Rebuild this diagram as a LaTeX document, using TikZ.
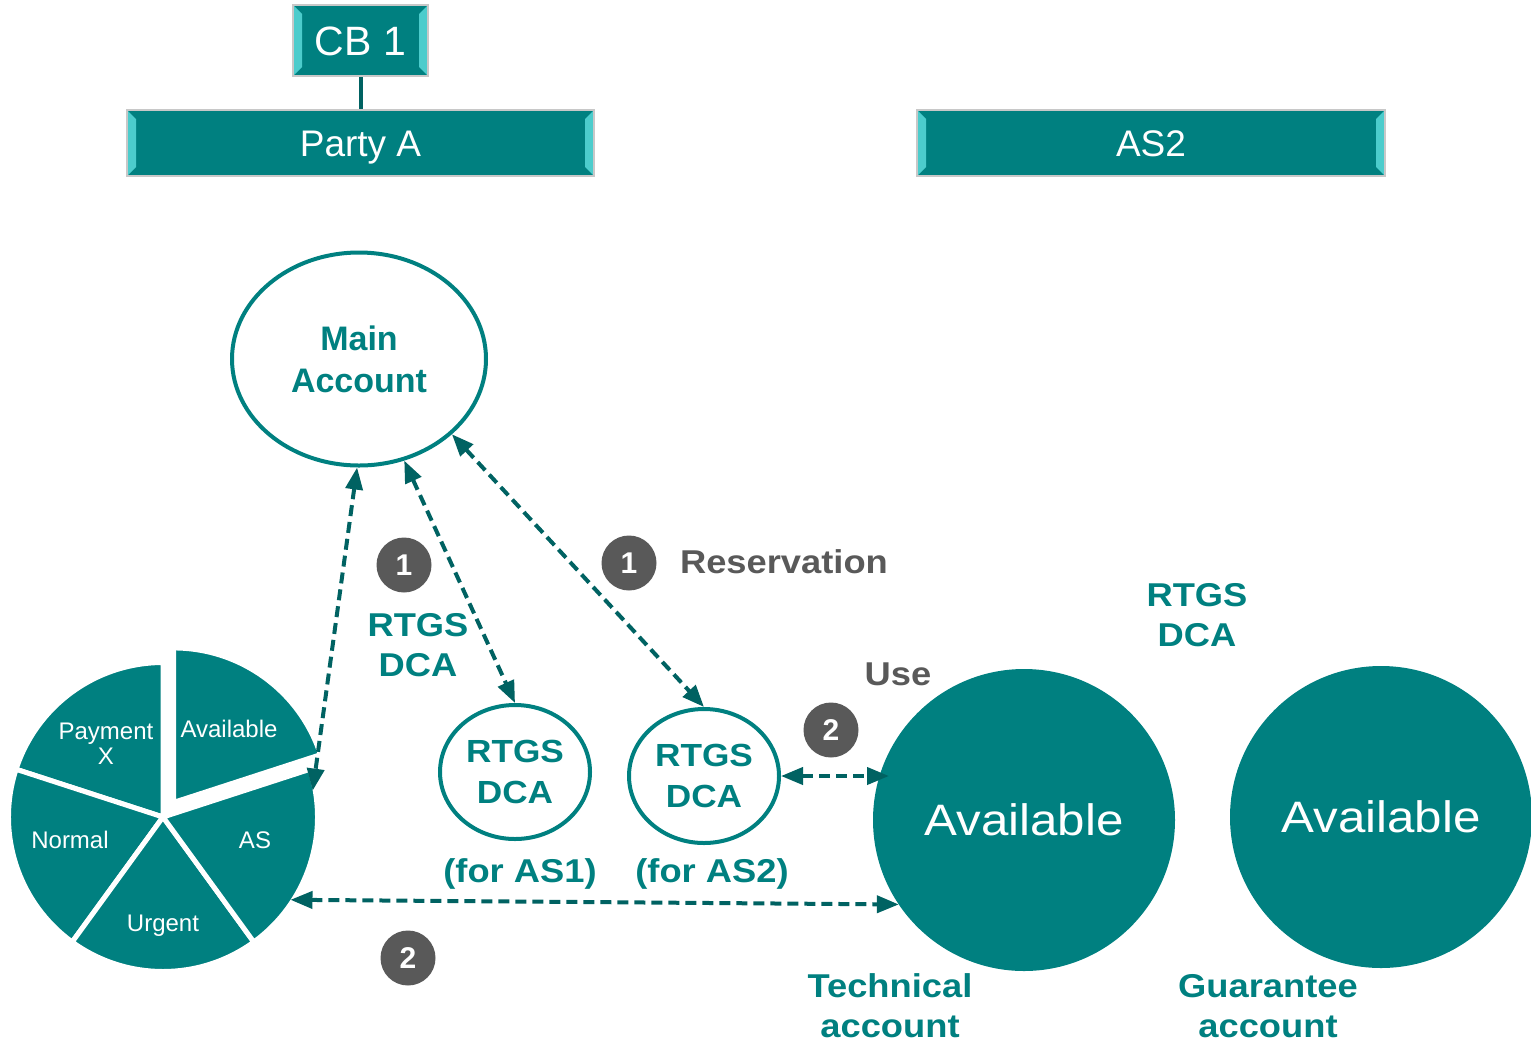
\documentclass[tikz,border=0pt]{standalone}
\usepackage{fontspec}
\setmainfont{Liberation Sans}
\newfontfamily\widefont[FakeStretch=1.1]{Liberation Sans}
\newfontfamily\widerfont[FakeStretch=1.12]{Liberation Sans}
\usetikzlibrary{arrows.meta,shapes.geometric}
\definecolor{tealc}{HTML}{008080}
\definecolor{darkteal}{HTML}{006262}
\definecolor{bevelc}{HTML}{4CCCCC}
\definecolor{boxgray}{HTML}{C8C8C8}
\definecolor{badgegray}{HTML}{595959}
\begin{document}
\begin{tikzpicture}[x=1pt,y=1pt,
  bevelbox/.style={rectangle, draw=boxgray, line width=2pt, fill=tealc, text=white, inner sep=0pt,
    font=\fontsize{37}{40}\selectfont, text height=26pt, text depth=0pt,
    path picture={
      \fill[bevelc] (path picture bounding box.north west) -- ++(9pt,-9pt)
        -- ([shift={(9pt,9pt)}]path picture bounding box.south west)
        -- (path picture bounding box.south west) -- cycle;
      \fill[bevelc] (path picture bounding box.north east) -- ++(-9pt,-9pt)
        -- ([shift={(-9pt,9pt)}]path picture bounding box.south east)
        -- (path picture bounding box.south east) -- cycle;
    }},
  linkline/.style={draw=darkteal, line width=4pt},
  acclabel/.style={text=tealc, font=\widefont\bfseries\fontsize{33}{40}\selectfont, align=center, inner sep=0pt},
  graylabel/.style={text=badgegray, font=\widefont\bfseries\fontsize{33}{40}\selectfont, align=center, inner sep=0pt},
  ringnode/.style={ellipse, draw=tealc, line width=4pt, fill=white, inner sep=0pt, text=tealc, align=center},
  bigdisc/.style={circle, fill=tealc, minimum size=302pt, inner sep=0pt, outer sep=0pt, text=white,
    font=\widerfont\fontsize{44}{50}\selectfont},
  badge/.style={circle, fill=badgegray, minimum size=55pt, inner sep=0pt, text=white,
    font=\bfseries\fontsize{30}{30}\selectfont},
  dasharrow/.style={draw=darkteal, line width=4pt, dash pattern=on 11pt off 6pt,
    {Triangle[length=22pt,width=17pt]}-{Triangle[length=22pt,width=17pt]}},
  slice/.style={fill=tealc, draw=white, line width=5pt},
  slicetext/.style={text=white, font=\fontsize{24}{25}\selectfont, align=center, inner sep=0pt}
]
\useasboundingbox (0,0) rectangle (1531,-1042);

% header boxes
\node[bevelbox, minimum width=135pt, minimum height=71pt, font=\fontsize{41}{44}\selectfont, text height=29pt] (cb) at (360.5,-40.5) {CB 1};
\node[bevelbox, minimum width=467pt, minimum height=66pt] (pa) at (360.5,-143) {Party A};
\node[bevelbox, minimum width=468pt, minimum height=66pt] (as2) at (1151,-143) {AS2};
\draw[linkline] (cb.south) -- (pa.north);

% pie chart
\coordinate (pc) at (163,-817);
\node[circle, minimum size=304pt, inner sep=0pt, outer sep=0pt] (pie) at (pc) {};
\filldraw[slice] (pc) -- ++(90:154.5) arc[start angle=90,end angle=162,radius=154.5] -- cycle;
\filldraw[slice] (pc) -- ++(162:154.5) arc[start angle=162,end angle=234,radius=154.5] -- cycle;
\filldraw[slice] (pc) -- ++(234:154.5) arc[start angle=234,end angle=306,radius=154.5] -- cycle;
\filldraw[slice] (pc) -- ++(306:154.5) arc[start angle=306,end angle=378,radius=154.5] -- cycle;
\filldraw[slice] ([shift={(54:18)}]pc) -- ++(18:154.5) arc[start angle=18,end angle=90,radius=154.5] -- cycle;
\node[slicetext] (px) at (106,-744) {Payment\\X};
\node[slicetext] (pav) at (229,-729) {Available};
\node[slicetext] (pn) at (70,-840) {Normal};
\node[slicetext] (pas) at (255,-840) {AS};
\node[slicetext] (pu) at (163,-926) {Urgent};

% accounts
\node[ringnode, minimum width=254pt, minimum height=213pt, font=\bfseries\fontsize{34}{42}\selectfont] (main) at (359,-359) {Main\\Account};
\node[ringnode, minimum width=150pt, minimum height=134pt, font=\widefont\bfseries\fontsize{32}{41}\selectfont] (dca1) at (515,-772) {RTGS\\DCA};
\node[ringnode, minimum width=150pt, minimum height=134pt, font=\widefont\bfseries\fontsize{32}{41}\selectfont] (dca2) at (704,-776) {RTGS\\DCA};
\node[bigdisc] (tech) at (1024,-820) {Available};
\node[bigdisc] (guar) at (1381,-817) {Available};

% labels
\node[acclabel] (lbl1) at (418,-645) {RTGS\\DCA};
\node[acclabel] (for1) at (520,-874) {(for AS1)};
\node[acclabel] (for2) at (712,-874) {(for AS2)};
\node[acclabel] (lbl2) at (1197,-615) {RTGS\\DCA};
\node[acclabel] (techl) at (890,-1006) {Technical\\account};
\node[acclabel] (guarl) at (1268,-1006) {Guarantee\\account};
\node[graylabel] (use) at (898,-674) {Use};
\node[graylabel] (res) at (784,-562) {Reservation};

% badges
\node[badge] (b1) at (404,-565) {1};
\node[badge] (b2) at (629,-563) {1};
\node[badge] (b3) at (831,-730) {2};
\node[badge] (b4) at (408,-958) {2};

% connectors
\draw[dasharrow] (main.-91) -- (pie.10);
\draw[dasharrow] (main.-66) -- (dca1.north);
\draw[dasharrow] (main.-39) -- (dca2.north);
\draw[dasharrow, shorten >=-16pt] (dca2.east) -- (dca2.east -| tech.west);
\draw[dasharrow] (pie.-33) -- (tech.214);
\end{tikzpicture}
\end{document}
